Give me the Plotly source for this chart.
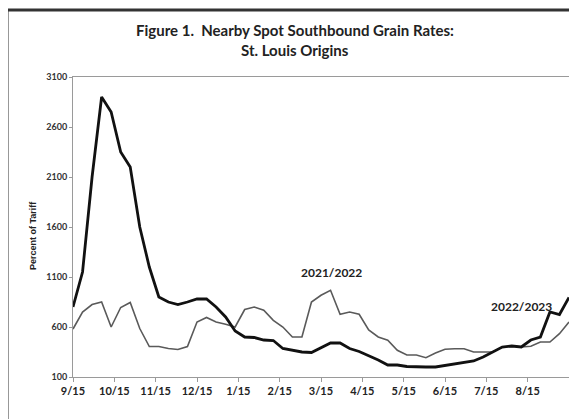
import plotly.graph_objects as go

# Weekly observations, 9/15 through the following 9/15 (53 weeks)
week_index = list(range(53))

rates_2022_2023 = [800, 1150, 2100, 2900, 2750, 2350, 2200, 1600, 1200, 900,
                   850, 825, 850, 880, 880, 800, 700, 560, 500, 495,
                   470, 465, 385, 365, 350, 345, 390, 440, 440, 385,
                   355, 315, 270, 220, 220, 205, 200, 200, 200, 215,
                   235, 250, 260, 300, 350, 400, 410, 400, 470, 500,
                   750, 725, 895]

rates_2021_2022 = [580, 750, 825, 850, 600, 795, 845, 585, 405, 405,
                   385, 375, 405, 650, 695, 650, 627, 600, 775, 800,
                   767, 667, 600, 500, 500, 850, 917, 967, 727, 750,
                   727, 570, 500, 467, 367, 320, 320, 293, 340, 377,
                   383, 383, 350, 350, 350, 400, 407, 400, 407, 450,
                   450, 533, 650]

month_labels = ["9/15", "10/15", "11/15", "12/15", "1/15", "2/15", "3/15",
                "4/15", "5/15", "6/15", "7/15", "8/15"]
month_positions = [i * 52 / 12 for i in range(len(month_labels))]

y_ticks = [100, 600, 1100, 1600, 2100, 2600, 3100]

FONT = "Lato"

# plot area in screen pixels (page has an 8px body margin)
PL, PT, PW, PH = 73, 77, 496, 300


def px(xs):
    return (xs - PL) / PW


def py(ys):
    return (PT + PH - ys) / PH


fig = go.Figure()
fig.add_trace(go.Scatter(x=week_index, y=rates_2021_2022, mode="lines",
                         name="2021/2022",
                         line=dict(color="#5a5a5a", width=1.6)))
fig.add_trace(go.Scatter(x=week_index, y=rates_2022_2023, mode="lines",
                         name="2022/2023",
                         line=dict(color="#111111", width=2.8)))

fig.update_layout(
    width=569, height=411,
    margin=dict(l=PL - 8, r=569 - (PL - 8) - PW, t=PT - 8, b=411 - (PT - 8) - PH,
                autoexpand=False),
    paper_bgcolor="white", plot_bgcolor="white",
    showlegend=False,
    font=dict(family=FONT, color="#222222"),
)

fig.update_xaxes(
    range=[0, 52], tickmode="array", tickvals=month_positions,
    ticktext=month_labels, showgrid=False, zeroline=False,
    showline=True, linecolor="#9a9a9a", linewidth=1, mirror=True,
    ticks="outside", ticklen=4, tickcolor="#9a9a9a", automargin=False,
    tickfont=dict(family=FONT, size=11, color="#222222", weight="bold"),
)
fig.update_yaxes(
    range=[100, 3100], tickmode="array", tickvals=y_ticks,
    showgrid=False, zeroline=False,
    showline=True, linecolor="#9a9a9a", linewidth=1, mirror=True,
    ticks="outside", ticklen=3, tickcolor="#9a9a9a", automargin=False,
    tickfont=dict(family=FONT, size=9, color="#333333", weight="bold"),
)

# Axis title
fig.add_annotation(xref="paper", yref="paper", x=px(33), y=py(236),
                   text="<b>Percent of Tariff</b>", textangle=-90,
                   showarrow=False,
                   font=dict(family="Liberation Sans", size=9, color="#222222"),
                   xanchor="center", yanchor="middle")

# Title (two lines)
fig.add_annotation(xref="paper", yref="paper", x=px(295), y=py(30),
                   text="<b>Figure 1.  Nearby Spot Southbound Grain Rates:</b>",
                   showarrow=False, font=dict(family=FONT, size=15, color="#222222"),
                   xanchor="center", yanchor="middle")
fig.add_annotation(xref="paper", yref="paper", x=px(295), y=py(50),
                   text="<b>St. Louis Origins</b>",
                   showarrow=False, font=dict(family=FONT, size=15, color="#222222"),
                   xanchor="center", yanchor="middle")

# Series labels
fig.add_annotation(x=week_index[27] + 0.15, y=rates_2021_2022[27] + 175,
                   text="<b>2021/2022</b>", showarrow=False,
                   font=dict(family=FONT, size=12, color="#222222"))
fig.add_annotation(x=week_index[47], y=rates_2022_2023[47] + 410,
                   text="<b>2022/2023</b>", showarrow=False,
                   font=dict(family=FONT, size=12, color="#222222"))

# Outer frame (extends beyond the visible window on right and bottom)
fig.add_shape(type="rect", xref="paper", yref="paper",
              x0=px(7), x1=px(600), y0=py(440), y1=py(10),
              line=dict(color="#333333", width=3), fillcolor="rgba(0,0,0,0)",
              layer="below")

fig.write_html("out.html")
